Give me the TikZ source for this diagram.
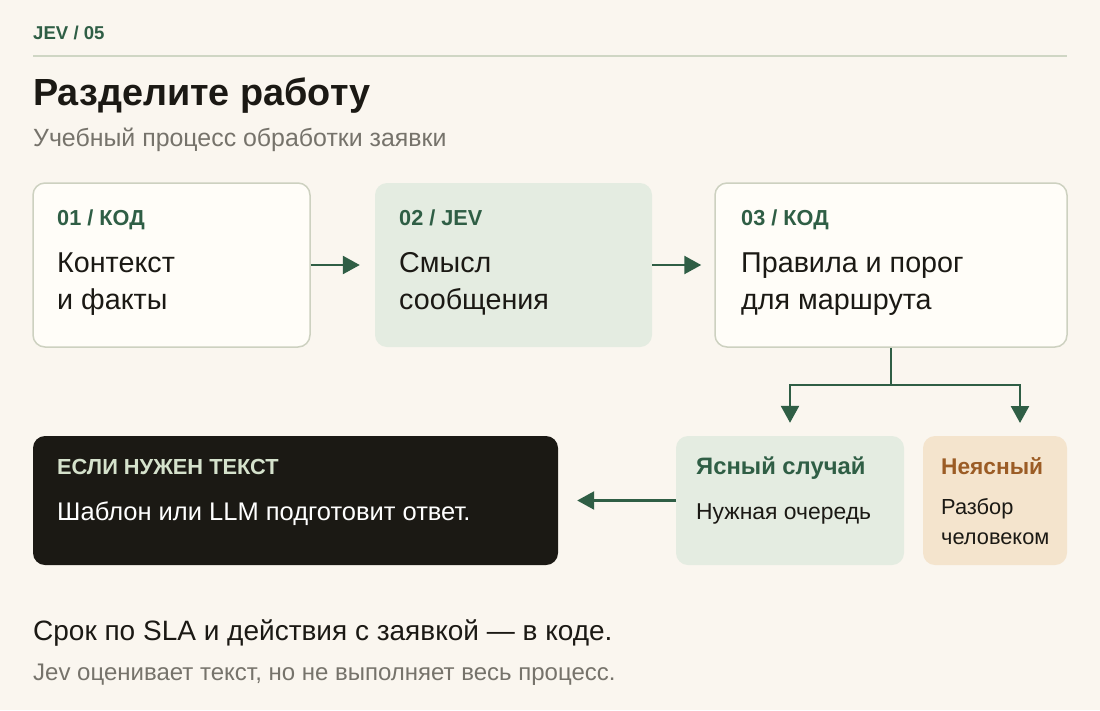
\documentclass[tikz,border=0pt]{standalone}
\usepackage{fontspec}
\setmainfont{Liberation Sans}
\usetikzlibrary{arrows.meta}
\definecolor{bgc}{HTML}{FAF6EF}
\definecolor{grn}{HTML}{2F5E45}
\definecolor{rulec}{HTML}{CFD6C4}
\definecolor{darkc}{HTML}{1B1914}
\definecolor{grayc}{HTML}{76736B}
\definecolor{wbox}{HTML}{FFFDF8}
\definecolor{wborder}{HTML}{CDD1C0}
\definecolor{gfill}{HTML}{E4ECE1}
\definecolor{tfill}{HTML}{F4E4CD}
\definecolor{brn}{HTML}{9B5C25}
\definecolor{lgrn}{HTML}{D5E2CC}
\tikzset{
  txt/.style={anchor=base west, inner sep=0pt},
  lbl/.style={txt, font=\bfseries\fontsize{21.7}{22}\selectfont, text=grn},
  big/.style={txt, font=\fontsize{28.7}{30}\selectfont, text=darkc},
  card/.style={rounded corners=12pt, minimum width=#1, minimum height=164pt, inner sep=0pt},
  wcard/.style={card=#1, fill=wbox, draw=wborder, line width=1.5pt},
  gcard/.style={card=#1, fill=gfill},
  lowcard/.style={rounded corners=12pt, minimum width=#1, minimum height=129pt, inner sep=0pt},
  arr/.style={draw=grn, line width=2.5pt, -{Triangle[length=17pt,width=18pt]}},
}
\begin{document}
\begin{tikzpicture}[x=1pt,y=-1pt]
\fill[bgc] (0,0) rectangle (1100,710);
\useasboundingbox (0,0) rectangle (1100,710);
% header
\node[txt, font=\bfseries\fontsize{18.6}{19}\selectfont, text=grn] (kick) at (33,39) {JEV / 05};
\draw[rulec, line width=2pt] (33,56) -- (1067,56);
\node[txt, font=\bfseries\fontsize{37.8}{38}\selectfont, text=darkc] (title) at (33,105) {Разделите работу};
\node[txt, font=\fontsize{24.9}{25}\selectfont, text=grayc] (sub) at (33,146) {Учебный процесс обработки заявки};
% top cards
\node[wcard=277pt] (b1) at (171.5,265) {};
\node[gcard=277pt] (b2) at (513.5,265) {};
\node[wcard=352pt] (b3) at (891,265) {};
\node[lbl] (l1) at (57,225) {01 / КОД};
\node[lbl] (l2) at (399,225) {02 / JEV};
\node[lbl] (l3) at (741,225) {03 / КОД};
\node[big] (t1a) at (57,272) {Контекст};
\node[big] (t1b) at (57,309) {и факты};
\node[big] (t2a) at (399,272) {Смысл};
\node[big] (t2b) at (399,309) {сообщения};
\node[big] (t3a) at (741,272) {Правила и порог};
\node[big] (t3b) at (741,309) {для маршрута};
% bottom cards
\node[lowcard=525pt, fill=darkc] (dk) at (295.5,500.5) {};
\node[lowcard=228pt, fill=gfill] (b4) at (790,500.5) {};
\node[lowcard=144pt, fill=tfill] (b5) at (995,500.5) {};
\node[txt, font=\bfseries\fontsize{21.8}{22}\selectfont, text=lgrn] (dl) at (57,474) {ЕСЛИ НУЖЕН ТЕКСТ};
\node[txt, font=\fontsize{25.5}{26}\selectfont, text=white] (dt) at (57,520) {Шаблон или LLM подготовит ответ.};
\node[txt, font=\bfseries\fontsize{23.8}{24}\selectfont, text=grn] (l4) at (696,474) {Ясный случай};
\node[txt, font=\fontsize{22.9}{23}\selectfont, text=darkc] (t4) at (696,519) {Нужная очередь};
\node[txt, font=\bfseries\fontsize{22.7}{23}\selectfont, text=brn] (l5) at (941,474) {Неясный};
\node[txt, font=\fontsize{21.8}{22}\selectfont, text=darkc] (t5a) at (941,514) {Разбор};
\node[txt, font=\fontsize{21.8}{22}\selectfont, text=darkc] (t5b) at (941,544) {человеком};
% connectors
\draw[arr, shorten >=15pt] (b1.east) -- (b2.west);
\draw[arr, shorten >=13pt] (b2.east) -- (b3.west);
\coordinate (fork) at (891,385);
\coordinate (r5) at (1020,436);
\draw[grn, line width=2.5pt] (b3.south) -- (fork);
\draw[arr, shorten >=13pt] (fork) -| (b4.north);
\draw[arr, shorten >=13pt] (fork) -| (r5);
\draw[arr, shorten >=19pt] (b4.west) -- (dk.east);
% footer
\node[txt, font=\fontsize{28}{28}\selectfont, text=darkc] (f1) at (33,640) {Срок по SLA и действия с заявкой — в коде.};
\node[txt, font=\fontsize{24}{24}\selectfont, text=grayc] (f2) at (33,680) {Jev оценивает текст, но не выполняет весь процесс.};
\end{tikzpicture}
\end{document}
